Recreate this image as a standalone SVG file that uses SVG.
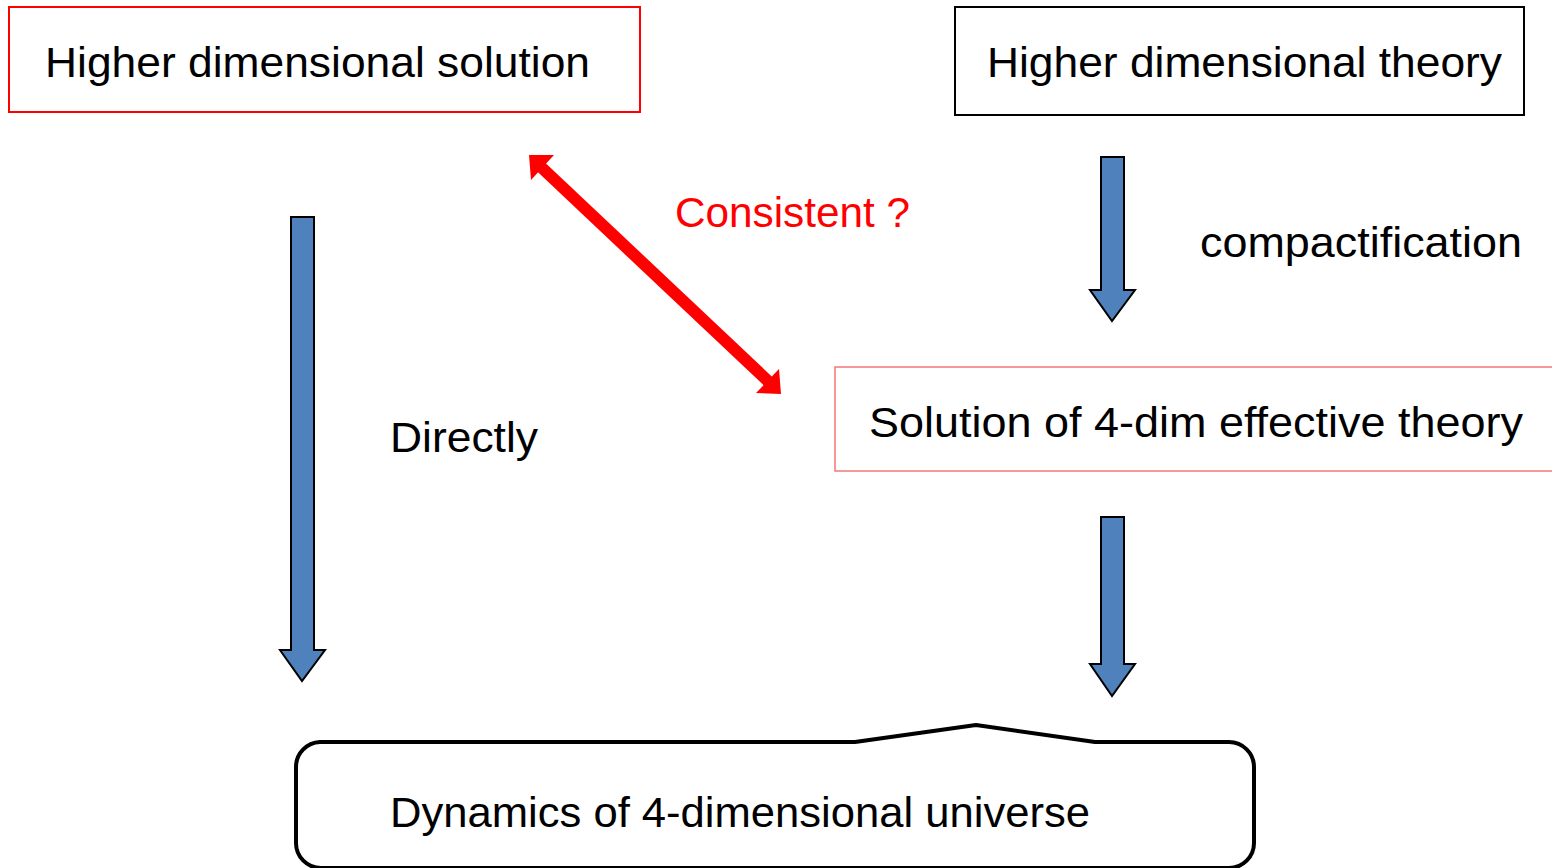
<svg xmlns="http://www.w3.org/2000/svg" width="1552" height="868" viewBox="0 0 1552 868">
<style>
text{font-family:"Liberation Sans",Arial,sans-serif;font-size:43px;fill:#000}
.red{fill:#ff0000}
.blue{fill:#4f81bd;stroke:#000;stroke-width:2;stroke-linejoin:miter}
</style>
<rect width="1552" height="868" fill="#fff"/>
<g id="n-hds">
<rect x="9" y="7" width="631" height="105" fill="#fff" stroke="#ff0000" stroke-width="2"/>
<text x="45" y="77" textLength="545" lengthAdjust="spacingAndGlyphs">Higher dimensional solution</text>
</g>
<g id="n-hdt">
<rect x="955" y="7" width="569" height="108" fill="#fff" stroke="#000" stroke-width="2"/>
<text x="987" y="77" textLength="515" lengthAdjust="spacingAndGlyphs">Higher dimensional theory</text>
</g>
<g id="n-sol4">
<rect x="835" y="367" width="740" height="104" fill="#fff" stroke="#f07878" stroke-width="1.5"/>
<text x="869" y="437" textLength="654" lengthAdjust="spacingAndGlyphs">Solution of 4-dim effective theory</text>
</g>
<g id="n-dyn">
<path d="M320 742 L855 742 L976 725 L1095 742 L1229 742 A25 25 0 0 1 1254 767 L1254 843 A25 25 0 0 1 1229 868 L321 868 A25 25 0 0 1 296 843 L296 767 A25 25 0 0 1 320 742 Z" fill="#fff" stroke="#000" stroke-width="4" stroke-linejoin="round"/>
<text x="390" y="827" textLength="700" lengthAdjust="spacingAndGlyphs">Dynamics of 4-dimensional universe</text>
</g>
<g id="connectors">
<polygon class="blue" points="291,217 314,217 314,650 325,650 302,681 280,650 291,650"/>
<polygon class="blue" points="1101,157 1124,157 1124,290 1135,290 1112,321 1090,290 1101,290"/>
<polygon class="blue" points="1101,517 1124,517 1124,664 1135,664 1112,696 1090,664 1101,664"/>
<g id="consistent-arrow" fill="#ff0000">
<polygon points="529,155 554,155 531,180"/>
<polygon points="781,394 779,369 756,393"/>
<line x1="540" y1="166" x2="770" y2="383" stroke="#ff0000" stroke-width="12"/>
</g>
<text class="red" x="675" y="227" textLength="235" lengthAdjust="spacingAndGlyphs">Consistent ?</text>
<text x="1200" y="257" textLength="322" lengthAdjust="spacingAndGlyphs">compactification</text>
<text x="390" y="452" textLength="148" lengthAdjust="spacingAndGlyphs">Directly</text>
</g>
</svg>
